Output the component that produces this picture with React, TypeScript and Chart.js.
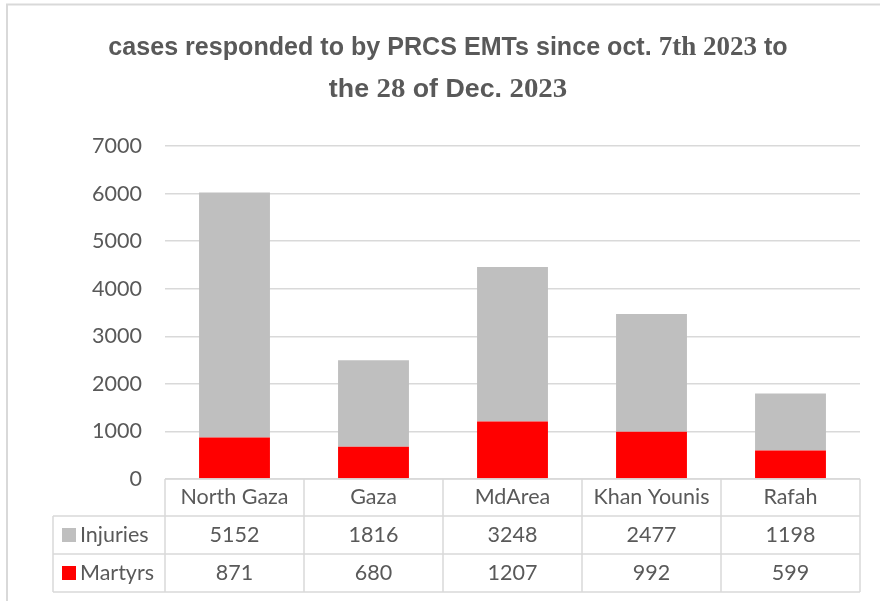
import React, { useEffect, useRef } from "react";
import { Chart, registerables } from "chart.js";

Chart.register(...registerables);

const categories = ["North Gaza", "Gaza", "MdArea", "Khan Younis", "Rafah"];
const injuries = [5152, 1816, 3248, 2477, 1198];
const martyrs = [871, 680, 1207, 992, 599];
const yTicks = [0, 1000, 2000, 3000, 4000, 5000, 6000, 7000];

const titleLine1 = [
  { t: "cases responded to by PRCS EMTs since oct. ", serif: false },
  { t: "7th 2023", serif: true },
  { t: " to", serif: false },
];
const titleLine2 = [
  { t: "the ", serif: false },
  { t: "28", serif: true },
  { t: " of Dec. ", serif: false },
  { t: "2023", serif: true },
];

const TEXT = "#595959";
const LINE = "#d9d9d9";
const GRAY = "#bfbfbf";
const RED = "#ff0000";
const FONT = "Lato";
const FSIZE = 21.5;

const decorPlugin = {
  id: "decor",
  afterDraw(chart: any) {
    const ctx: CanvasRenderingContext2D = chart.ctx;
    const xs = chart.scales.x;
    const ys = chart.scales.y;
    const n = categories.length;
    ctx.save();
    // outer border
    ctx.strokeStyle = LINE;
    ctx.lineWidth = 2;
    ctx.strokeRect(7, 4.5, 900, 700);

    // title
    const drawLine = (segs: any[], baseY: number, sx: number) => {
      const fontFor = (s: any) =>
        s.serif ? "bold 28px 'Liberation Serif'" : "bold 26px 'Liberation Sans'";
      let total = 0;
      for (const s of segs) {
        ctx.font = fontFor(s);
        total += ctx.measureText(s.t).width;
      }
      ctx.save();
      ctx.translate(448, baseY);
      ctx.scale(sx, 1);
      let x = -total / 2;
      ctx.fillStyle = TEXT;
      ctx.textBaseline = "alphabetic";
      ctx.textAlign = "left";
      for (const s of segs) {
        ctx.font = fontFor(s);
        ctx.fillText(s.t, x, 0);
        x += ctx.measureText(s.t).width;
      }
      ctx.restore();
    };
    drawLine(titleLine1, 55, 0.965);
    drawLine(titleLine2, 97, 1.03);

    // table
    const top = ys.getPixelForValue(0);
    const rows = [top, top + 37, top + 75, top + 113];
    const tableLeft = 53;
    const bounds: number[] = [];
    for (let i = 0; i <= n; i++) bounds.push(xs.getPixelForValue(i - 0.5));
    ctx.strokeStyle = LINE;
    ctx.lineWidth = 1.5;
    ctx.beginPath();
    ctx.moveTo(bounds[0], rows[0]);
    ctx.lineTo(bounds[n], rows[0]);
    for (let r = 1; r < 4; r++) {
      ctx.moveTo(tableLeft, rows[r]);
      ctx.lineTo(bounds[n], rows[r]);
    }
    ctx.moveTo(tableLeft, rows[1]);
    ctx.lineTo(tableLeft, rows[3]);
    for (let i = 0; i <= n; i++) {
      ctx.moveTo(bounds[i], rows[0]);
      ctx.lineTo(bounds[i], rows[3]);
    }
    ctx.stroke();

    ctx.fillStyle = TEXT;
    ctx.font = `${FSIZE}px ${FONT}`;
    ctx.textAlign = "center";
    ctx.textBaseline = "middle";
    for (let i = 0; i < n; i++) {
      const cx = xs.getPixelForValue(i);
      ctx.fillText(categories[i], cx, (rows[0] + rows[1]) / 2);
      ctx.fillText(String(injuries[i]), cx, (rows[1] + rows[2]) / 2);
      ctx.fillText(String(martyrs[i]), cx, (rows[2] + rows[3]) / 2);
    }
    const series = [
      { name: "Injuries", color: GRAY, y: (rows[1] + rows[2]) / 2 },
      { name: "Martyrs", color: RED, y: (rows[2] + rows[3]) / 2 },
    ];
    for (const s of series) {
      ctx.fillStyle = s.color;
      ctx.fillRect(62, s.y - 7, 14, 14);
      ctx.fillStyle = TEXT;
      ctx.textAlign = "left";
      ctx.fillText(s.name, 80, s.y);
    }
    ctx.restore();
  },
};

export default function App() {
  const ref = useRef<HTMLCanvasElement | null>(null);
  useEffect(() => {
    if (!ref.current) return;
    const chart = new Chart(ref.current, {
      type: "bar",
      data: {
        labels: categories,
        datasets: [
          { label: "Martyrs", data: martyrs, backgroundColor: RED },
          { label: "Injuries", data: injuries, backgroundColor: GRAY },
        ],
      },
      options: {
        animation: false,
        responsive: false,
        maintainAspectRatio: false,
        events: [],
        layout: { padding: { top: 146, bottom: 122, left: 0, right: 20 } },
        plugins: { legend: { display: false }, title: { display: false }, tooltip: { enabled: false } },
        datasets: { bar: { barPercentage: 0.51, categoryPercentage: 1 } },
        scales: {
          x: {
            stacked: true,
            display: true,
            afterFit: (s: any) => {
              s.height = 0;
            },
            grid: { display: false },
            border: { display: false },
            ticks: { display: false },
          },
          y: {
            stacked: true,
            min: 0,
            max: 7000,
            afterFit: (s: any) => {
              s.width = 165;
            },
            afterBuildTicks: (s: any) => {
              s.ticks = yTicks.map((v) => ({ value: v }));
            },
            border: { display: false },
            grid: { color: LINE, lineWidth: 1.5, drawTicks: false },
            ticks: {
              padding: 23,
              color: TEXT,
              font: { family: FONT, size: FSIZE },
              callback: (v: any) => String(v),
            },
          },
        },
      },
      plugins: [decorPlugin],
    });
    return () => chart.destroy();
  }, []);
  return (
    <div style={{ position: "fixed", left: 0, top: 0, width: 880, height: 601, background: "#fff" }}>
      <canvas ref={ref} width={880} height={601} style={{ width: 880, height: 601 }} />
    </div>
  );
}
